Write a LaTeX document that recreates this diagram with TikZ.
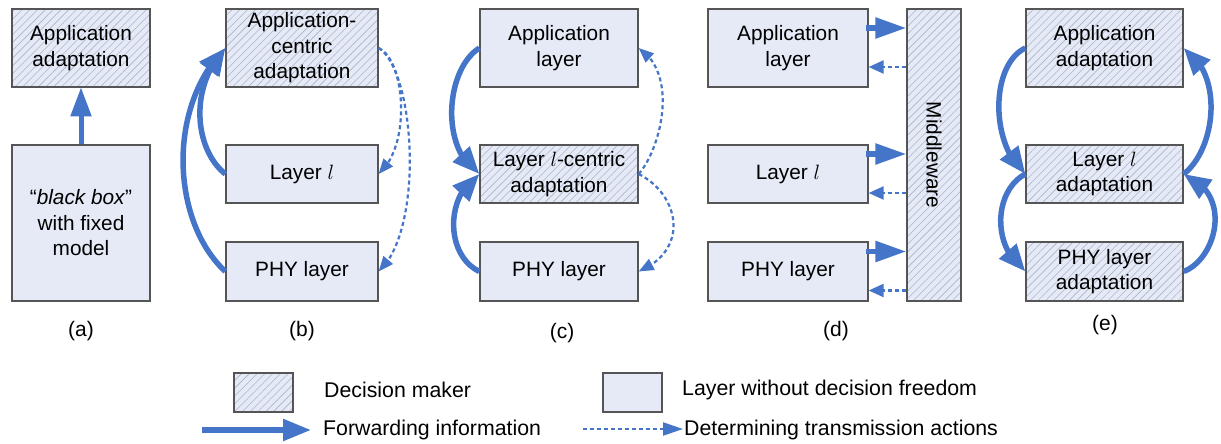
\documentclass[tikz,border=0pt]{standalone}
\usepackage{fontspec}
\setmainfont{Liberation Sans}
\usetikzlibrary{arrows.meta,bending,patterns.meta,calc}

\definecolor{boxfill}{RGB}{229,234,246}
\definecolor{boxline}{RGB}{85,85,85}
\definecolor{hatch}{RGB}{170,181,202}
\definecolor{flow}{RGB}{68,117,200}

\tikzset{
  layerbox/.style={draw=boxline, line width=1.3pt, fill=boxfill, align=center,
    inner sep=0pt, font=\fontsize{20.8}{25.5}\selectfont},
  decision/.style={layerbox, preaction={fill=boxfill},
    pattern={Lines[angle=45,distance=5.5pt,line width=0.6pt]}, pattern color=hatch},
  wide/.style={minimum width=#1},
  tall/.style={minimum height=#1},
  caption/.style={font=\fontsize{21}{25}\selectfont},
  legendtext/.style={font=\fontsize{21.3}{25}\selectfont, anchor=west, inner sep=0pt},
  fwd/.style={draw=flow, line width=5.5pt, -{Triangle[length=27pt,width=22pt,flex]}},
  fwdstraight/.style={draw=flow, line width=5pt, -{Triangle[length=29pt,width=20pt]}},
  dashline/.style={draw=flow, line width=2.2pt, dash pattern=on 4pt off 3pt},
  det/.style={dashline, -{Triangle[length=15pt,width=12pt,flex]}},
}

\begin{document}
\begin{tikzpicture}[x=1pt,y=-1pt]
\useasboundingbox[fill=white] (0,0) rectangle (1221,444);

% ---------- (a) ----------
\node[decision, wide=138, tall=78] (aapp) at (81,48) {Application\\adaptation};
\node[layerbox, wide=138, tall=156] (abox) at (81,223)
  {``\textit{black box}''\\with fixed\\model};
\draw[fwdstraight] (abox.north) -- (aapp.south);
\node[caption] (acap) at (81,331) {(a)};

% ---------- (b) ----------
\node[decision, wide=152, tall=78] (bapp) at (302,48) {Application-\\centric\\adaptation};
\node[layerbox, wide=152, tall=58] (blay) at (302,174) {Layer $l$};
\node[layerbox, wide=152, tall=59] (bphy) at (302,271.5) {PHY layer};
\draw[fwd] (blay.west) .. controls (195,150) and (188,88) .. (bapp.west);
\draw[fwd] (bphy.west) .. controls (172,222) and (166,108) .. (bapp.west);
\draw[det] (bapp.east) .. controls (405,60) and (412,145) .. (blay.east);
\draw[det] (bapp.east) .. controls (415,70) and (425,230) .. (bphy.east);
\node[caption] (bcap) at (302,331) {(b)};

% ---------- (c) ----------
\node[layerbox, wide=158, tall=78] (capp) at (559,48) {Application\\layer};
\node[decision, wide=158, tall=58] (clay) at (559,174) {Layer $l$-centric\\adaptation};
\node[layerbox, wide=158, tall=59] (cphy) at (559,271.5) {PHY layer};
\draw[fwd] (capp.west) .. controls (445,70) and (440,150) .. (clay.west);
\draw[fwd] (cphy.west) .. controls (445,255) and (445,195) .. (clay.west);
\draw[det] (clay.east) .. controls (660,150) and (680,75) .. (capp.east);
\draw[det] (clay.east) .. controls (680,195) and (690,250) .. (cphy.east);
\node[caption] (ccap) at (562,333) {(c)};

% ---------- (d) ----------
\node[layerbox, wide=160, tall=78] (dapp) at (788,48) {Application\\layer};
\node[layerbox, wide=160, tall=58] (dlay) at (788,174) {Layer $l$};
\node[layerbox, wide=160, tall=59] (dphy) at (788,271.5) {PHY layer};
\node[decision, wide=54, tall=292] (mw) at (934,155) {};
\node[font=\fontsize{20.8}{25}\selectfont, rotate=-90] (mwlabel) at (mw.center) {Middleware};
\foreach \b in {dapp,dlay,dphy}{
  \draw[draw=flow, line width=5.5pt, -{Triangle[length=31pt,width=20pt]}]
    ($(\b.east)+(-3,-20)$) -- ($(mw.west |- \b.east)+(0,-20)$);
  \draw[dashline, -{Triangle[length=15pt,width=13pt]}]
    ($(mw.west |- \b.east)+(0,19)$) -- ($(\b.east)+(0,19)$);
}
\node[caption] (dcap) at (836,331) {(d)};

% ---------- (e) ----------
\node[decision, wide=157, tall=78] (eapp) at (1104.5,48) {Application\\adaptation};
\node[decision, wide=157, tall=58] (elay) at (1104.5,174) {Layer $l$\\adaptation};
\node[decision, wide=157, tall=59] (ephy) at (1104.5,271.5) {PHY layer\\adaptation};
\draw[fwd] (eapp.west) .. controls (990,65) and (990,145) .. (elay.west);
\draw[fwd] (elay.west) .. controls (995,190) and (990,245) .. (ephy.west);
\draw[fwd] (ephy.east) .. controls (1215,260) and (1235,195) .. (elay.east);
\draw[fwd] (elay.east) .. controls (1215,150) and (1225,75) .. (eapp.east);
\node[caption] (ecap) at (1105,325) {(e)};

% ---------- legend ----------
\node[decision, wide=59, tall=39] (keydec) at (263.5,392.5) {};
\node[legendtext] (keydectext) at (324,390) {Decision maker};
\node[layerbox, wide=59, tall=39] (keylay) at (632.5,392.5) {};
\node[legendtext] (keylaytext) at (682,390) {Layer without decision freedom};
\coordinate (fwdfrom) at (202,430);
\coordinate (fwdto) at (311,430);
\draw[draw=flow, line width=5.5pt, -{Triangle[length=28pt,width=21pt]}] (fwdfrom) -- (fwdto);
\node[legendtext] (fwdtext) at (323,430) {Forwarding information};
\coordinate (detfrom) at (583,429);
\coordinate (detto) at (683,429);
\draw[dashline, -{Triangle[length=20pt,width=13pt]}] (detfrom) -- (detto);
\node[legendtext] (dettext) at (684,430) {Determining transmission actions};
\end{tikzpicture}
\end{document}
